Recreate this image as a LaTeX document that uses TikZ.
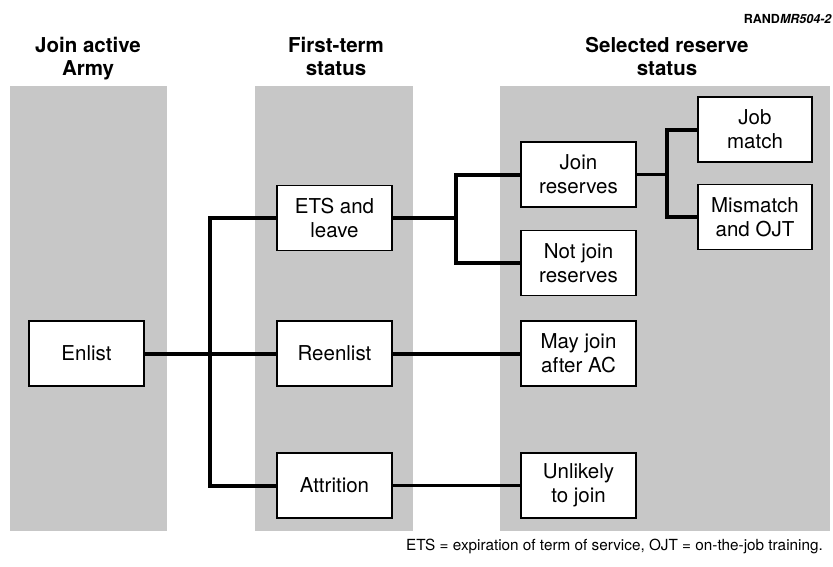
\documentclass[tikz,border=0pt]{standalone}
\usepackage{fontspec}
\setmainfont{TeX Gyre Heros}
\usepackage{tikz}
\definecolor{stipple}{gray}{0.78}

\begin{document}
\begin{tikzpicture}[x=1pt, y=-1pt,
        box/.style={draw, fill=white, line width=1.5pt, minimum width=115pt, minimum height=65pt,
            inner sep=0pt, align=center, font=\fontsize{20.5}{24}\selectfont},
        head/.style={anchor=north, inner sep=0pt, align=center, font=\fontsize{20.5}{23}\selectfont\bfseries},
        link/.style={line width=4pt}]
        \useasboundingbox (0,0) rectangle (833,566);
        % shaded columns
        \foreach \xa/\xb in {10/167, 255/413, 500/830}
            \fill[stipple] (\xa,86) rectangle (\xb,531);
        \node [head] (hdarmy) at (88,37) {Join active\\Army};
        \node [head] (hdfirst) at (336,37) {First-term\\status};
        \node [head] (hdreserve) at (667,37) {Selected reserve\\status};
        \node [anchor=base east, inner sep=0pt, font=\fontsize{12.5}{14}\selectfont\bfseries] (tag) at (832,23) {RAND\textit{MR504-2}};
        % boxes
        \node [box] (enlist) at (86.5,353.5) {Enlist};
        \node [box] (ets) at (334.5,218) {ETS and\\leave};
        \node [box] (reenlist) at (334.5,353.5) {Reenlist};
        \node [box] (attrition) at (334.5,485.5) {Attrition};
        \node [box] (joinres) at (578.5,174.5) {Join\\reserves};
        \node [box] (notjoin) at (578.5,263) {Not join\\reserves};
        \node [box] (mayjoin) at (578.5,353.5) {May join\\after AC};
        \node [box] (unlikely) at (578.5,485.5) {Unlikely\\to join};
        \node [box, minimum width=114pt] (jobmatch) at (755,129.5) {Job\\match};
        \node [box, minimum width=114pt] (mismatch) at (755,217) {Mismatch\\and OJT};
        % connectors
        \coordinate (split1) at (210,353.5);
        \coordinate (split2) at (456,218);
        \coordinate (split3) at (667,174.5);
        \draw [link] (enlist) -- (reenlist);
        \draw [link] (ets.west) -| (split1) |- (attrition.west);
        \draw [link] (reenlist) -- (mayjoin);
        \draw [link, line width=3.3pt] (attrition) -- (unlikely);
        \draw [link, line width=3.3pt] (ets) -- (split2);
        \draw [link] (joinres.west) -| (split2) |- (notjoin.west);
        \draw [link, line width=3.3pt] (joinres) -- (split3);
        \draw [link] (jobmatch.west) -| (split3) |- (mismatch.west);
        \node [anchor=base east, inner sep=0pt, font=\fontsize{15.3}{18}\selectfont] (note) at (823,550)
            {ETS = expiration of term of service, OJT = on-the-job training.};
    \end{tikzpicture}
\end{document}
